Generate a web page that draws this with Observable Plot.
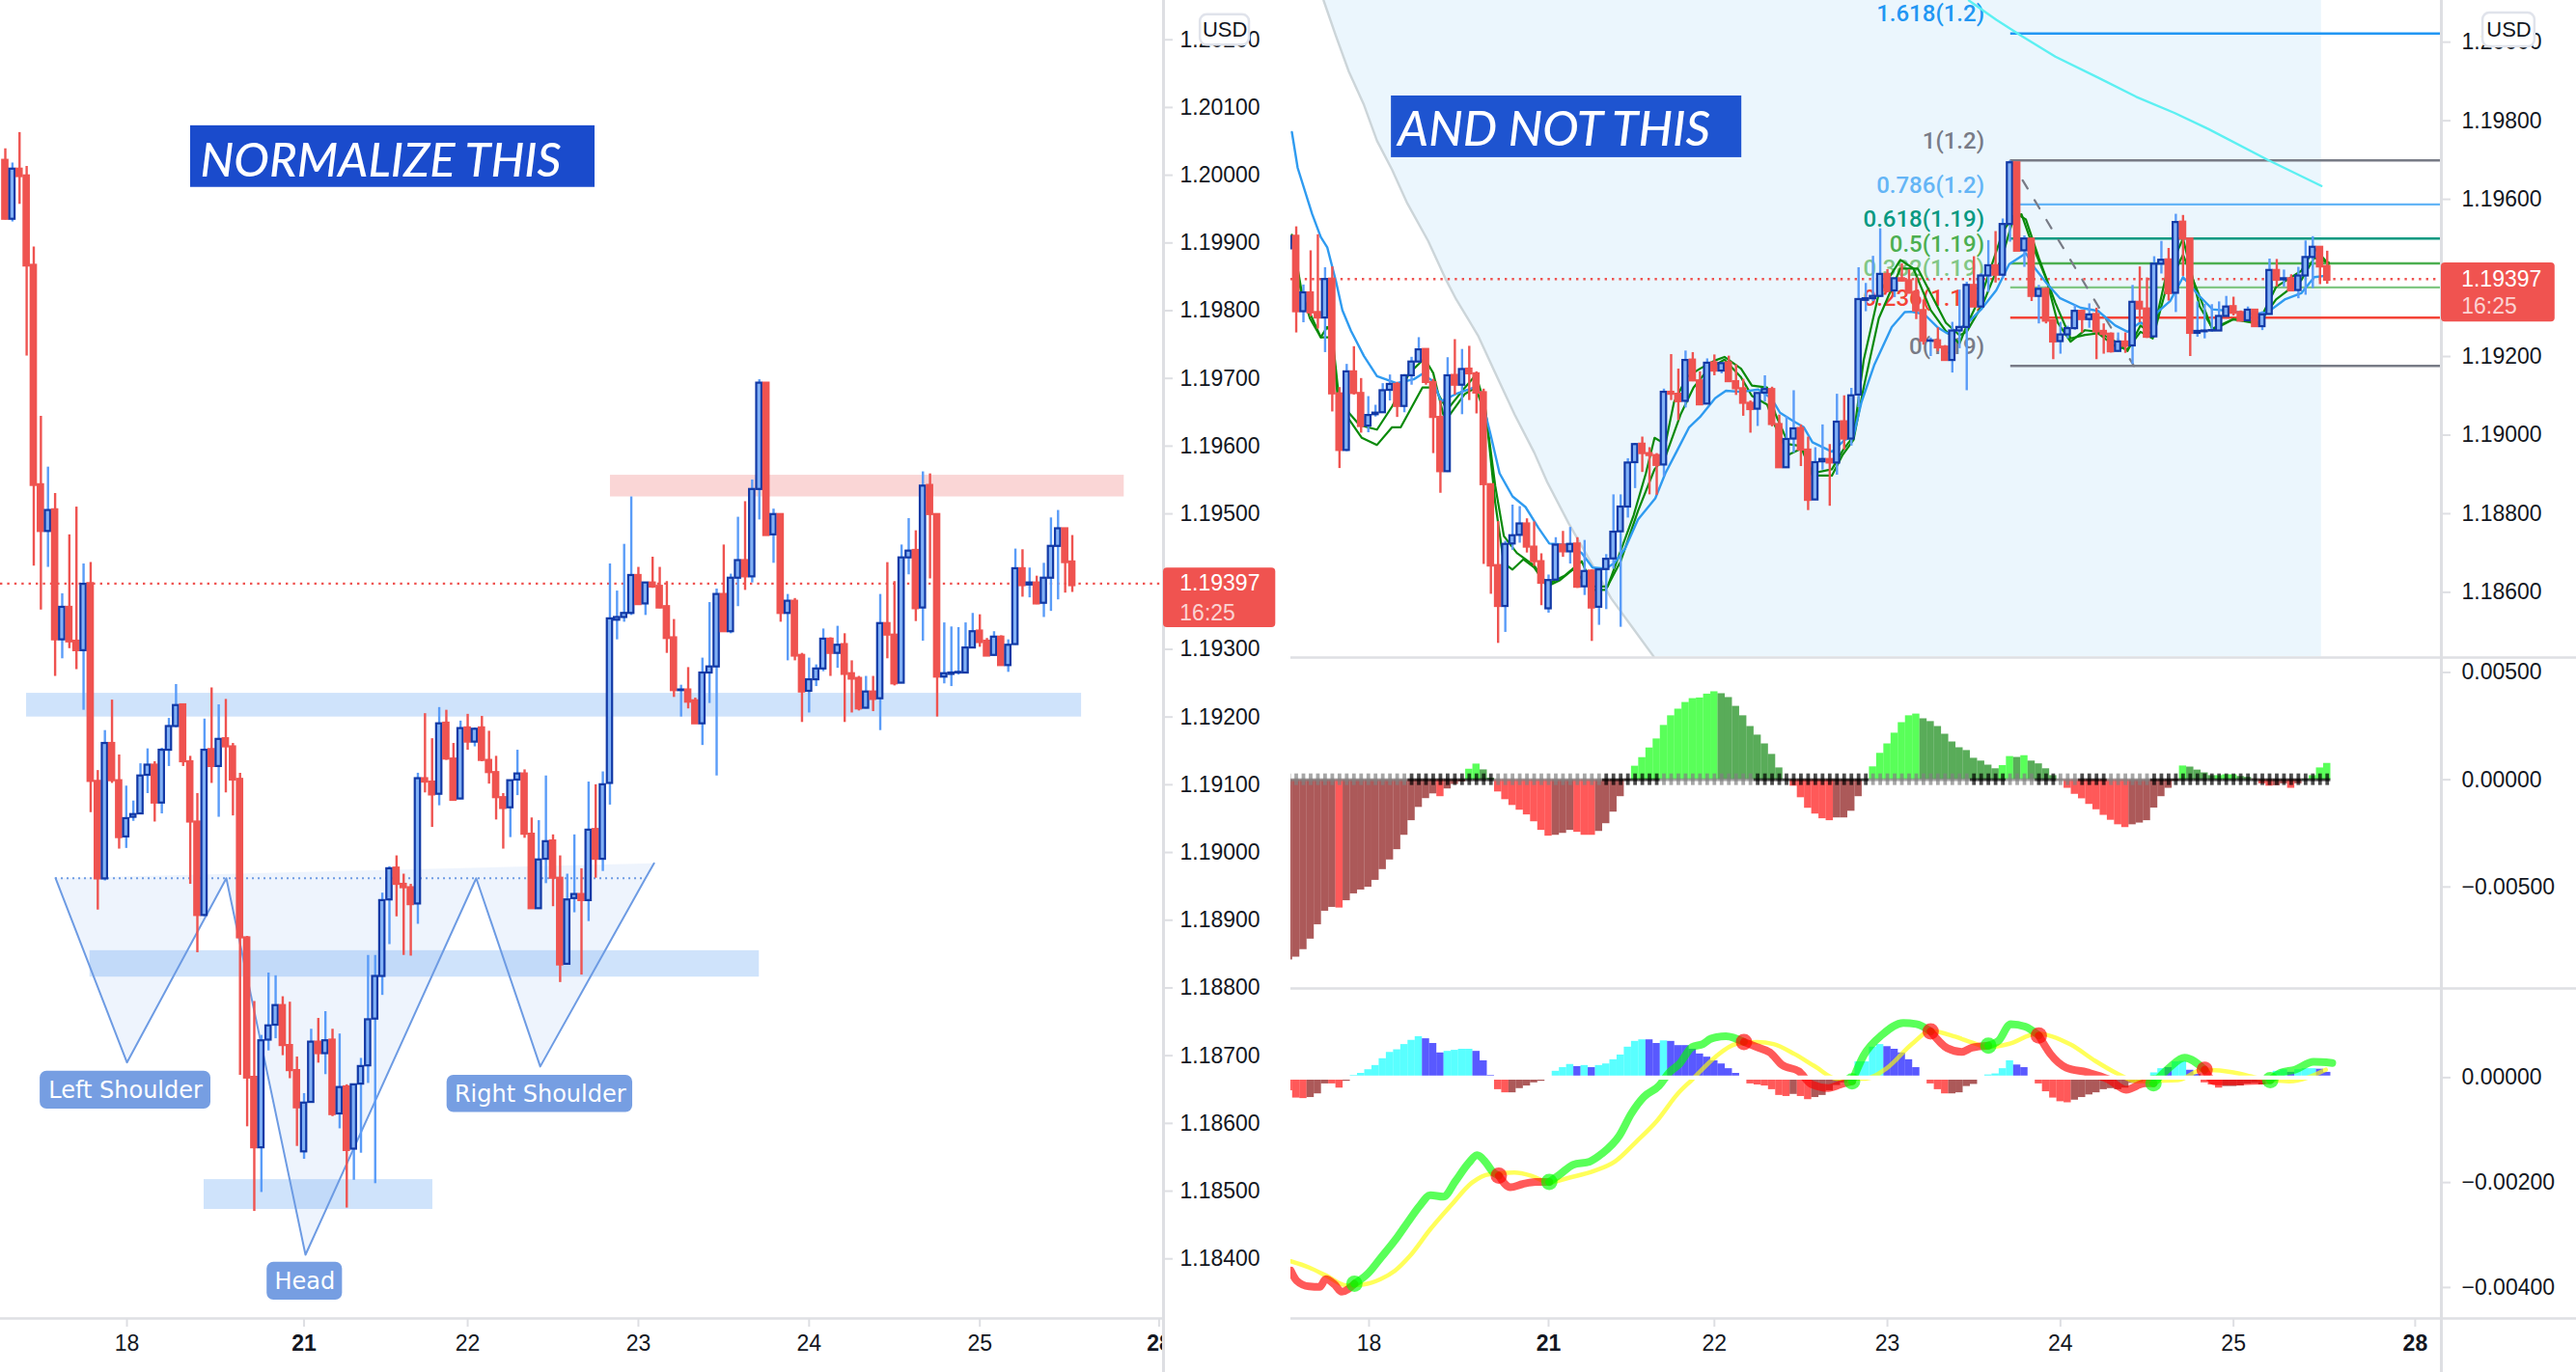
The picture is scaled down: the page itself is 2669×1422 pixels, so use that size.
<!DOCTYPE html>
<html><head><meta charset="utf-8">
<style>
html,body{margin:0;padding:0;background:#fff;width:2669px;height:1422px;overflow:hidden}
.p{position:absolute}
.p svg{display:block}
</style>
<script src="https://cdn.jsdelivr.net/npm/d3@7"></script>
<script src="https://cdn.jsdelivr.net/npm/@observablehq/plot@0.6"></script>
</head><body>
<div class="p" id="left" style="left:0;top:0"></div>
<div class="p" id="rtop" style="left:1337px;top:0"></div>
<div class="p" id="rmid" style="left:1337px;top:682px"></div>
<div class="p" id="rbot" style="left:1337px;top:1025px"></div>
<script>
// ---------- hourly candles ----------
const opens=[1.20022,1.19935,1.20009,1.19999,1.19867,1.19543,1.19474,1.19506,1.19314,1.19362,
1.19312,1.19298,1.19397,1.19105,1.18961,1.19161,1.19106,1.19023,1.19052,1.19057,
1.19114,1.19129,1.19073,1.19151,1.19186,1.19218,1.19134,1.19045,1.18907,1.19152,
1.19127,1.19168,1.19156,1.19108,1.18874,1.18668,1.18564,1.18723,1.18745,1.18774,
1.18715,1.18678,1.18558,1.18631,1.18720,1.18703,1.18723,1.18614,1.18654,1.18562,
1.18658,1.18685,1.18754,1.18817,1.18930,1.18977,1.18953,1.18948,1.18924,1.19109,
1.19104,1.19086,1.19191,1.19138,1.19079,1.19184,1.19163,1.19184,1.19136,1.19118,
1.19081,1.19066,1.19107,1.19116,1.19027,1.18917,1.18990,1.19017,1.18962,1.18835,
1.18932,1.18938,1.18929,1.19034,1.18990,1.19102,1.19343,1.19347,1.19353,1.19409,
1.19367,1.19398,1.19393,1.19363,1.19317,1.19239,1.19240,1.19224,1.19190,1.19265,
1.19274,1.19381,1.19326,1.19405,1.19431,1.19407,1.19536,1.19693,1.19469,1.19499,
1.19353,1.19371,1.19291,1.19238,1.19255,1.19271,1.19315,1.19294,1.19307,1.19264,
1.19257,1.19213,1.19237,1.19227,1.19338,1.19321,1.19250,1.19435,1.19446,1.19361,
1.19542,1.19499,1.19259,1.19263,1.19265,1.19265,1.19302,1.19327,1.19312,1.19291,
1.19318,1.19276,1.19307,1.19419,1.19395,1.19398,1.19368,1.19405,1.19452,1.19478,1.19429];
const closes=[1.19935,1.20009,1.19998,1.19866,1.19542,1.19474,1.19505,1.19314,1.19362,1.19311,
1.19298,1.19396,1.19105,1.18961,1.19161,1.19106,1.19022,1.19050,1.19056,1.19113,
1.19129,1.19073,1.19151,1.19186,1.19217,1.19134,1.19045,1.18907,1.19151,1.19127,
1.19167,1.19156,1.19107,1.18874,1.18667,1.18564,1.18722,1.18744,1.18774,1.18715,
1.18678,1.18623,1.18630,1.18720,1.18703,1.18722,1.18613,1.18653,1.18560,1.18657,
1.18684,1.18753,1.18817,1.18929,1.18976,1.18953,1.18948,1.18923,1.19109,1.19104,
1.19085,1.19190,1.19138,1.19077,1.19183,1.19163,1.19182,1.19136,1.19118,1.19081,
1.19065,1.19106,1.19116,1.19027,1.18917,1.18989,1.19016,1.18962,1.18834,1.18930,
1.18938,1.18929,1.19033,1.18990,1.19100,1.19345,1.19347,1.19353,1.19409,1.19366,
1.19398,1.19392,1.19361,1.19316,1.19239,1.19240,1.19222,1.19190,1.19265,1.19274,
1.19381,1.19326,1.19405,1.19431,1.19407,1.19536,1.19693,1.19468,1.19499,1.19353,
1.19371,1.19290,1.19237,1.19255,1.19271,1.19315,1.19294,1.19306,1.19263,1.19256,
1.19212,1.19237,1.19226,1.19338,1.19321,1.19249,1.19435,1.19445,1.19360,1.19541,
1.19499,1.19259,1.19264,1.19265,1.19266,1.19302,1.19326,1.19310,1.19290,1.19318,
1.19276,1.19306,1.19419,1.19394,1.19398,1.19367,1.19405,1.19452,1.19478,1.19428,1.19394];
const highs=[1.20039,1.20018,1.20063,1.20013,1.19894,1.19644,1.19569,1.19530,1.19382,1.19469,
1.19510,1.19426,1.19428,1.19121,1.19180,1.19225,1.19144,1.19098,1.19076,1.19131,
1.19153,1.19134,1.19154,1.19198,1.19248,1.19218,1.19142,1.19087,1.19197,1.19243,
1.19218,1.19226,1.19161,1.19117,1.18876,1.18780,1.18730,1.18822,1.18818,1.18787,
1.18779,1.18698,1.18644,1.18739,1.18755,1.18765,1.18739,1.18732,1.18657,1.18657,
1.18696,1.18848,1.18848,1.18940,1.18979,1.18995,1.18968,1.18953,1.19117,1.19205,
1.19168,1.19214,1.19210,1.19161,1.19194,1.19204,1.19184,1.19201,1.19179,1.19142,
1.19087,1.19106,1.19151,1.19122,1.19051,1.19047,1.19113,1.19026,1.18995,1.18968,
1.19026,1.18976,1.19104,1.19100,1.19119,1.19426,1.19386,1.19455,1.19525,1.19421,
1.19399,1.19436,1.19421,1.19400,1.19344,1.19247,1.19273,1.19228,1.19287,1.19369,
1.19389,1.19454,1.19411,1.19495,1.19518,1.19550,1.19698,1.19693,1.19507,1.19499,
1.19381,1.19375,1.19294,1.19287,1.19277,1.19330,1.19317,1.19334,1.19323,1.19283,
1.19260,1.19260,1.19260,1.19381,1.19428,1.19400,1.19454,1.19493,1.19475,1.19562,
1.19559,1.19499,1.19339,1.19333,1.19332,1.19339,1.19353,1.19351,1.19316,1.19326,
1.19320,1.19314,1.19448,1.19447,1.19420,1.19408,1.19427,1.19494,1.19505,1.19478,1.19468];
const lows=[1.19934,1.19931,1.19957,1.19733,1.19423,1.19358,1.19421,1.19260,1.19286,1.19301,
1.19270,1.19210,1.19059,1.18915,1.18958,1.19102,1.19005,1.19006,1.19046,1.19056,
1.19087,1.19045,1.19057,1.19127,1.19184,1.19127,1.18953,1.18852,1.18905,1.19102,
1.19052,1.19088,1.19054,1.18671,1.18595,1.18470,1.18498,1.18707,1.18725,1.18700,
1.18666,1.18566,1.18547,1.18630,1.18689,1.18672,1.18610,1.18592,1.18475,1.18516,
1.18556,1.18659,1.18511,1.18789,1.18864,1.18905,1.18848,1.18847,1.18894,1.19088,
1.19037,1.19069,1.19136,1.19076,1.19078,1.19151,1.19156,1.19134,1.19101,1.19048,
1.19005,1.19022,1.19084,1.19021,1.18917,1.18917,1.18954,1.18920,1.18808,1.18834,
1.18911,1.18819,1.18898,1.18962,1.18972,1.19070,1.19314,1.19340,1.19350,1.19366,
1.19350,1.19390,1.19360,1.19294,1.19229,1.19200,1.19212,1.19190,1.19158,1.19220,
1.19113,1.19326,1.19323,1.19363,1.19387,1.19398,1.19491,1.19468,1.19427,1.19340,
1.19283,1.19283,1.19192,1.19206,1.19245,1.19267,1.19260,1.19272,1.19192,1.19206,
1.19209,1.19212,1.19208,1.19180,1.19286,1.19246,1.19250,1.19410,1.19341,1.19312,
1.19404,1.19200,1.19249,1.19245,1.19262,1.19265,1.19301,1.19303,1.19290,1.19290,
1.19276,1.19266,1.19306,1.19377,1.19376,1.19366,1.19347,1.19356,1.19373,1.19383,1.19384];

// ---------- axes ----------
const dayTicks=[17.1,65,89,113,137];
const dayLabels=["18","22","23","24","25"];
const boldTicks=[42,162.2];
const boldLabels=["21","28"];
const leftPriceTicks=[1.184,1.185,1.186,1.187,1.188,1.189,1.19,1.191,1.192,1.193,1.194,1.195,1.196,1.197,1.198,1.199,1.2,1.201,1.202];
const rightPriceTicks=[1.186,1.188,1.19,1.192,1.196,1.198,1.2];
const squeezeTicks=[0.005,0,-0.005];
const oscTicks=[0,-0.002,-0.004];
const lastPrice=1.19397;

// ---------- left annotations ----------
const zoneX1=[2.99,85.07,11.9,27.95], zoneX2=[151.3,157.3,106,60.1];
const zoneY1=[1.19235,1.19557,1.18855,1.18517], zoneY2=[1.19200,1.19525,1.18816,1.18473];
const zoneColor=["#94c0f7","#f4a3a3","#94c0f7","#94c0f7"];
const patternX=[7.06,17.1,31.07,42.2,66.2,75.2,90,91.2];
const patternY=[1.18962,1.1869,1.18962,1.18406,1.18962,1.18684,1.18962,1.18984];
const necklineX=[7.06,90];
const shoulderText=["Left Shoulder","Head","Right Shoulder"];
const shoulderX=[16.9,42.1,75.2], shoulderY=[1.18649,1.18367,1.18643];
const shoulderX1=[4.9,36.8,62.1], shoulderX2=[28.9,47.4,88.2];
const shoulderY1=[1.18677,1.18395,1.18671], shoulderY2=[1.18621,1.18339,1.18616];

// ---------- right price panel ----------
const cloudEdge=[[10.8,1.20106],[12.5,1.20016],[14.3,1.19925],[16.4,1.1984],[18.2,1.19749],[20.3,1.19675],[22.4,1.1959],[25.3,1.19494],[27.7,1.19398],[29.2,1.19345],[32.2,1.19254],[34.6,1.19158],[37.3,1.19052],[40,1.18956],[41.8,1.18881],[44.8,1.18775],[47.8,1.18679],[50.7,1.18584],[53.7,1.18509],[56.6,1.18436]];
const cloudRight=149.2;
const longMa=[[100.3,1.20106],[104.1,1.20057],[107.6,1.20016],[112.3,1.19963],[118.2,1.1991],[123.5,1.19861],[128.8,1.1982],[133.5,1.19779],[141.7,1.19701],[149.2,1.19634]];
const blueMa=[[6.4,1.19771],[7.2,1.1968],[9.2,1.19563],[10.4,1.19504],[11.3,1.19478],[12.5,1.19392],[13.4,1.19318],[14.6,1.19265],[16.4,1.19201],[18.2,1.1915],[20.9,1.19132],[23.3,1.19142],[24.5,1.19156],[26,1.19137],[27.1,1.19086],[29.2,1.19105],[31.6,1.19121],[32.5,1.1911],[34,1.18998],[35.2,1.18903],[37,1.18844],[38.8,1.18817],[40.6,1.18764],[42.1,1.18724],[44.8,1.18721],[46.6,1.187],[48.1,1.18663],[49.9,1.1866],[51.1,1.18674],[52.6,1.18711],[54.4,1.18785],[56.8,1.18839],[58.2,1.18903],[59.7,1.18956],[61.5,1.1902],[63,1.19046],[65.1,1.19094],[66.6,1.19113],[68.7,1.1911],[71.1,1.19116],[72.9,1.19094],[74.1,1.19057],[75.9,1.19036],[77.4,1.1902],[78.6,1.18982],[81.3,1.18958],[83.1,1.18988],[84.3,1.18998],[85.4,1.19084],[87.2,1.1918],[89.6,1.19275],[91.4,1.19313],[92.3,1.19314],[94.1,1.19308],[95.9,1.19275],[97.3,1.19259],[98.8,1.19269],[100,1.19283],[102,1.1932],[104.1,1.19369],[105.9,1.19435],[108.2,1.19463],[109.4,1.19426],[111.1,1.19386],[112.9,1.19349],[115.8,1.19324],[118.2,1.19316],[120.6,1.19279],[122.3,1.19263],[124.1,1.19287],[125.3,1.19271],[126.4,1.19312],[128.2,1.19341],[130,1.19402],[132.3,1.19353],[134.1,1.1932],[136.4,1.19316],[139.4,1.19308],[141.7,1.19312],[144.1,1.19345],[146.4,1.19361],[148.2,1.19402],[150,1.19406]];
const greenFast=[[6.4,1.1951],[7.7,1.19371],[8.9,1.19297],[10.4,1.19249],[11.3,1.19275],[12,1.19254],[12.8,1.19116],[14.3,1.19057],[15.8,1.19025],[18.2,1.19014],[20.3,1.19073],[22.7,1.19158],[24.8,1.19195],[26,1.19158],[27.4,1.19052],[30.4,1.19121],[31.9,1.19153],[33.1,1.19084],[34.6,1.18871],[35.8,1.18743],[37.6,1.187],[40,1.18668],[41.8,1.1862],[44.2,1.18642],[46.6,1.18679],[48.1,1.18615],[50.2,1.18615],[51.7,1.1869],[53.8,1.18796],[55.5,1.18903],[56.7,1.18993],[58.2,1.18977],[59.4,1.19084],[61.2,1.19148],[63,1.19169],[65.1,1.1919],[66.4,1.19199],[68.7,1.19169],[70.2,1.19126],[72.3,1.19121],[73.5,1.19052],[75.3,1.18977],[77.1,1.18972],[78.6,1.18903],[81.3,1.18913],[82.8,1.18961],[84.3,1.18998],[85.7,1.1919],[87.8,1.1936],[90.8,1.19446],[92.6,1.19424],[95,1.19318],[97.1,1.19265],[99,1.19233],[100,1.19279],[102.3,1.19369],[105,1.19517],[106.4,1.19557],[107.6,1.19562],[109.1,1.19484],[111.1,1.19394],[112.6,1.19287],[114.4,1.19238],[116.4,1.19267],[118.2,1.19263],[120.6,1.19238],[122.3,1.19214],[124.1,1.19279],[125.8,1.19255],[127.6,1.19402],[130,1.195],[132.3,1.19328],[134.1,1.19271],[137,1.19295],[140.5,1.19287],[142.9,1.19377],[146.4,1.19418],[148.2,1.19476],[150.2,1.19435]];
const greenSlow=[[6.4,1.19504],[7.7,1.1936],[10.4,1.19249],[12,1.19249],[12.8,1.19084],[14.3,1.19041],[16.1,1.18993],[18.2,1.18975],[20.3,1.1902],[21.5,1.1902],[24.5,1.19121],[26.2,1.19121],[28.3,1.19052],[30.4,1.19105],[31.9,1.19121],[33.4,1.19041],[34.6,1.18828],[35.8,1.18674],[37,1.18658],[38.5,1.18684],[40,1.18663],[41.8,1.18615],[43.6,1.18631],[45.4,1.18658],[48.1,1.18606],[49.9,1.18606],[52,1.18679],[54.4,1.18807],[56.7,1.18913],[58.2,1.18945],[60.3,1.19052],[62.1,1.19121],[64.2,1.19169],[66.4,1.19192],[68.7,1.19147],[70.2,1.191],[72.3,1.19078],[73.5,1.1902],[75.3,1.1895],[77.1,1.18966],[78.6,1.18897],[81.3,1.18897],[82.8,1.1895],[84.3,1.18988],[85.7,1.19121],[87.8,1.19297],[90.8,1.19424],[93.2,1.19424],[95,1.1936],[97.1,1.19286],[99,1.19254],[100,1.19263],[102.3,1.19336],[105,1.19459],[106.7,1.19566],[108.2,1.19549],[110,1.19451],[112.3,1.19336],[114.4,1.19246],[116.4,1.19255],[118.2,1.19259],[120.6,1.19226],[122.3,1.19218],[124.1,1.19263],[125.8,1.19246],[127.6,1.19369],[130,1.19459],[132.3,1.19353],[134.1,1.19267],[137,1.19295],[140.5,1.19283],[142.9,1.19345],[146.4,1.19394],[148.2,1.19451],[150.2,1.19439]];
const fibLabels=["1.618(1.2)","1(1.2)","0.786(1.2)","0.618(1.19)","0.5(1.19)","0.382(1.19)","0.236(1.19)","0(1.19)"];
const fibPrices=[1.20022,1.19699,1.19587,1.195,1.19437,1.19376,1.19299,1.19176];
const fibColors=["#2196f3","#787b86","#64b5f6","#089981","#4caf50","#81c784","#f44336","#787b86"];
const fibStart=106.1, fibLabelEnd=102.45;
const fibTrendX=[106.1,123.2], fibTrendY=[1.19699,1.19176];

// ---------- squeeze momentum histogram, bars 6..150 ----------
const histStart=6;
const squeezeHist=[-.0084,-.00827,-.00792,-.00743,-.00676,-.00613,-.00595,-.00598,-.00564,-.00532,
-.00514,-.00501,-.00469,-.00419,-.00374,-.00326,-.00259,-.00191,-.00129,-.00088,
-.00066,-.00079,-.00043,-.00022,-.0001,.00049,.00073,.00046,.00007,-.00057,
-.00093,-.0012,-.00142,-.00164,-.00196,-.00236,-.00263,-.00259,-.0025,-.00236,
-.00245,-.00259,-.00259,-.00241,-.00205,-.00151,-.00079,-.00004,.00063,.00103,
.00148,.0019,.00253,.00298,.00329,.0036,.00378,.00381,.00399,.0041,
.00401,.00383,.00342,.00298,.00248,.00208,.00167,.00118,.00055,0,
-.0003,-.00084,-.00133,-.0016,-.00182,-.00191,-.00178,-.00178,-.00147,-.00079,
0,.0006,.00123,.00167,.00217,.00266,.00298,.00306,.00284,.00271,
.00248,.00212,.00176,.00149,.00136,.001,.00087,.00068,.00051,.00066,
.00108,.00104,.00112,.00087,.00074,.00051,.00019,-.00003,-.0004,-.00068,
-.00089,-.00115,-.0014,-.00166,-.00189,-.0021,-.00223,-.0021,-.00202,-.00191,
-.00132,-.00079,-.0004,-.00006,.00064,.00059,.00045,.00032,.00019,.00019,
.00023,.00023,.00015,.00011,-.00002,-.00019,-.0003,-.00028,-.00019,-.0004,
-.00019,.00002,.00019,.00055,.00076];
const squeezeKind=("rrrrrrrRrr"+"rrrrrrrrrr"+"rRrrrGGggR"+"RRRRRRRrrr"+"RRRrrrrrGG"+"GGGGGGGGGG"+"gggggggggg"+"RRRRRRrrrr"+"rGGGGGGGgg"+"gggggggggG"+"GgGggggrRR"+"RRRRRRRrrr"+"rrrrGggggG"+"GGggRRRrrR"+"rgGGG");
const squeezeOnRanges=[[23,34],[50,57],[71,86],[101,105],[110,112],[116,119],[126,150]];

// ---------- MACD-style oscillator, bars 6..150 ----------
const oscHist=[-.00025,-.00039,-.0004,-.00038,-.00031,-.00012,-.00012,-.0002,-.00007,.00004,
.00008,.00015,.00023,.00036,.00048,.00053,.00063,.00071,.00078,.00074,
.00065,.00047,.0005,.00052,.00054,.00054,.0005,.00032,.00004,-.00023,
-.00029,-.00029,-.00021,-.00016,-.0001,-.00007,0,.00012,.00019,.00025,
.00021,.00023,.00019,.00023,.00026,.00034,.00043,.00058,.00069,.00072,
.00072,.00065,.0007,.00069,.00061,.00061,.00054,.00045,.00039,.00032,
.00026,.00017,.00008,0,-.00012,-.00014,-.00016,-.00023,-.00034,-.00036,
-.00032,-.00036,-.00042,-.00038,-.00034,-.00025,-.00015,-.0001,-.00007,.0003,
.0003,.00058,.00063,.00059,.00054,.00047,.00034,.00019,0,-.00012,
-.00023,-.00031,-.00031,-.00029,-.00017,-.00013,0,.00005,.00007,.00017,
.00032,.00024,.00019,0,-.00012,-.00027,-.00039,-.00046,-.00048,-.00043,
-.00038,-.00033,-.00029,-.00023,-.00021,-.00023,-.0002,-.00011,-.00009,0,
.00009,.00017,.00019,.0003,.00031,.00014,.00006,-.0001,-.00014,-.0002,
-.00017,-.00017,-.00016,-.00012,-.00011,-.00014,0,.00012,.00015,.0001,
.00015,.00017,.00017,.00016,.0001];
const oscKind=("RRRrrrRRrC"+"CCCCCCCCCB"+"BBCCCCBBBR"+"RrrrrrrCCC"+"BCBCCCCCCC"+"BBCBBBBBBB"+"BBBBRRRRRR"+"rRRrrrrrrC"+"CCCBBBBBBR"+"RRrrrrrCCC"+"CBBBRRRRRr"+"rrrrrrrrrr"+"CCBCCBBRRR"+"rrrrrrrCCB"+"CCCBB");
const signalLine=[[6.25,-.0035],[8.8,-.00362],[11.1,-.00377],[14,-.00396],[16.35,-.00394],[18.7,-.00384],[20.7,-.00368],[22.7,-.00341],[25.6,-.00289],[28.5,-.00243],[31.4,-.002],[33.8,-.00184],[37.25,-.00181],[39.6,-.00187],[42.1,-.002],[44.8,-.00191],[48.3,-.00178],[51.2,-.0016],[54.1,-.00123],[57,-.00083],[59.9,-.00031],[61.9,-.00004],[65.1,.00039],[68,.00064],[70.9,.00068],[73.2,.00064],[76.1,.00045],[79,.00021],[81.95,-.00002],[86,-.00002],[88.9,.00018],[92.4,.00064],[95,.00089],[98.4,.00078],[100.7,.00067],[103,.00058],[105.8,.00064],[109.8,.00084],[114.4,.00063],[117.8,.00032],[120.7,.00009],[123.6,-.00007],[129.3,-.00005],[132.7,.00015],[137,.0001],[140.1,0],[144.7,-.00007],[149.8,.00015]];
const macdLine=[[6.25,-.00368],[7.06,-.00387],[8.8,-.00398],[10.25,-.00399],[11.1,-.00384],[12.3,-.00394],[13.3,-.00408],[15.07,-.00393],[16.9,-.00374],[18.7,-.00344],[20.7,-.0031],[22.45,-.00276],[24.2,-.00243],[25.6,-.00224],[27.4,-.00227],[29.1,-.00197],[30.9,-.00163],[32.1,-.00148],[33.2,-.0016],[34.35,-.00181],[35.1,-.00187],[36.7,-.00209],[38.4,-.00203],[40.2,-.00199],[42.1,-.00199],[43.6,-.00184],[45.4,-.00166],[47.7,-.0016],[49.4,-.00145],[51.8,-.00111],[53.5,-.00068],[55.2,-.00037],[57.3,-.00016],[58.7,.00009],[60.2,.00027],[61.9,.00058],[63.4,.00064],[64.5,.00074],[66.6,.00079],[69.1,.00068],[70.9,.00058],[72.7,.00048],[74.4,.00024],[76.7,.00012],[78.5,-.00013],[80.8,-.0002],[82.5,-.00013],[84.1,-.00007],[85.7,.00042],[88.3,.00082],[91.2,.00104],[93,.00102],[95,.00088],[97.3,.00056],[99.3,.00049],[100.7,.00057],[103,.00061],[104.4,.0007],[106.1,.00102],[108.1,.00097],[110,.0008],[111.6,.00045],[113.8,.00019],[116.7,.0001],[119.6,-.00003],[122.1,-.00023],[124.7,-.00011],[125.9,-.00011],[128.1,.00019],[130.2,.00038],[133,.00015],[134.4,-.00007],[137.8,-.00007],[142.1,-.00005],[143.5,.00009],[145.5,.00015],[148.1,.0003],[150.7,.00028]];
const macdCrossX=[15.07,35.1,42.1,69.1,84.1,95,103,110,125.9,133,142.1];
const macdCrossY=[-.00393,-.00187,-.00199,.00068,-.00007,.00088,.00061,.0008,-.00011,.00015,-.00005];

// ---------- build tables ----------
const candles=opens.map((o,i)=>({i,o,h:highs[i],l:lows[i],c:closes[i],up:closes[i]>=o}));
const zones=zoneX1.map((a,k)=>({a,b:zoneX2[k],t:zoneY1[k],u:zoneY2[k],f:zoneColor[k]}));
const pattern=patternX.map((x,k)=>({x,y:patternY[k]}));
const shoulders=shoulderText.map((t,k)=>({t,x:shoulderX[k],y:shoulderY[k],a:shoulderX1[k],b:shoulderX2[k],u:shoulderY1[k],v:shoulderY2[k]}));
const fibs=fibLabels.map((t,k)=>({t,p:fibPrices[k],f:fibColors[k]}));
const pts=a=>a.map(([x,y])=>({x,y}));
const kindColor={r:"#800000",R:"#ff0000",g:"#008000",G:"#00ff00",C:"#00ffff",B:"#0000ff"};
const hist=(vals,kinds)=>vals.map((v,k)=>({i:histStart+k,v,f:kindColor[kinds[k]]||"#800000"}));
const RED="#ef5350", WICK="#5a9cf8", BODY="#82b1f5", EDGE="#1239a6", AXIS="#dedfe3", INK="#131722";
const AXFONT="Liberation Sans";

const candleMarks=(clip)=>[
  Plot.ruleX(candles,{x:"i",y1:"l",y2:"h",stroke:d=>d.up?WICK:RED,strokeWidth:2.4,clip}),
  Plot.rect(candles,{x1:d=>d.i-.37,x2:d=>d.i+.37,y1:"o",y2:"c",fill:d=>d.up?BODY:RED,stroke:d=>d.up?EDGE:RED,strokeWidth:2.2,clip})
];
const dayAxes=()=>[
  Plot.axisX({anchor:"bottom",ticks:dayTicks,tickFormat:d=>dayLabels[dayTicks.indexOf(d)],label:null,tickSize:9,tickPadding:8,stroke:AXIS,strokeWidth:2,fill:INK}),
  Plot.axisX({anchor:"bottom",ticks:boldTicks,tickFormat:d=>boldLabels[boldTicks.indexOf(d)],label:null,tickSize:9,tickPadding:8,stroke:AXIS,strokeWidth:2,fill:INK,fontWeight:"bold"})
];
const yAxis=(ticks,pad)=>Plot.axisY({anchor:"right",ticks,tickFormat:d3.format(".5f"),label:null,tickSize:9,tickPadding:pad,stroke:AXIS,strokeWidth:2,fill:INK});
const base=(w,h,mb,mr,x,y)=>({width:w,height:h,marginLeft:0,marginTop:0,marginBottom:mb,marginRight:mr,
  x:{domain:x,axis:null},y:{domain:y,axis:null},
  style:{background:"transparent",fontFamily:AXFONT,fontSize:"23px",overflow:"visible"}});

const usd=(a,b,u,v,t)=>[
  Plot.rect([0],{x1:a,x2:b,y1:u,y2:v,fill:"#fff",stroke:"#e0e3eb",strokeWidth:2.5,rx:7}),
  Plot.text(["USD"],{x:(a+b)/2,y:t,text:d=>d,fontSize:22,fill:INK})
];
const tag=(a,b,u,v,tx,t2)=>[
  Plot.rect([0],{x1:a,x2:b,y1:u,y2:v,fill:"#f05350",rx:4}),
  Plot.text([lastPrice.toFixed(5)],{x:tx,y:lastPrice,text:d=>d,textAnchor:"start",fill:"#fff",fontSize:23}),
  Plot.text(["16:25"],{x:tx,y:t2,text:d=>d,textAnchor:"start",fill:"#fff",fillOpacity:.75,fontSize:23})
];

// ---------- LEFT chart ----------
const leftX=[-0.68,162.82], leftY=[1.18312,1.20258];
document.getElementById("left").append(Plot.plot({...base(1337,1422,56,132,leftX,leftY),marks:[
  Plot.rect(zones,{x1:"a",x2:"b",y1:"t",y2:"u",fill:"f",fillOpacity:.45}),
  Plot.line(pattern,{x:"x",y:"y",fill:"#5b8fe8",fillOpacity:.1,stroke:"none"}),
  Plot.line(pattern,{x:"x",y:"y",stroke:"#6d9be3",strokeWidth:2}),
  Plot.ruleY([patternY[0]],{x1:necklineX[0],x2:necklineX[1],stroke:"#6d9be3",strokeWidth:2,strokeDasharray:"2 4"}),
  Plot.ruleY([lastPrice],{stroke:RED,strokeWidth:2.4,strokeDasharray:"2.4 5"}),
  ...candleMarks(false),
  Plot.rect(shoulders,{x1:"a",x2:"b",y1:"u",y2:"v",fill:"#769ee2",rx:7}),
  Plot.text(shoulders,{x:"x",y:"y",text:"t",fill:"#fff",fontFamily:"DejaVu Sans",fontSize:24}),
  Plot.rect([0],{x1:26.05,x2:82.9,y1:1.20073,y2:1.19982,fill:"#1a4bcc"}),
  Plot.text(["NORMALIZE THIS"],{x:27.4,y:1.20028,dy:5,text:d=>d,textAnchor:"start",fill:"#fff",fontFamily:"Lato",fontStyle:"italic",fontSize:49,fontWeight:500}),
  yAxis(leftPriceTicks,8),
  ...dayAxes(),
  Plot.rect([0],{x1:162.96,x2:178,y1:1.18309,y2:1.18232,fill:"#fff"}),
  Plot.ruleX([leftX[1]],{stroke:AXIS,strokeWidth:3,insetBottom:-56}),
  Plot.ruleY([leftY[0]],{stroke:AXIS,strokeWidth:2.6}),
  ...usd(168,174.9,1.20237,1.20192,1.20215),
  ...tag(leftX[1],178.6,1.1942,1.19332,165.1,1.19353)
]}));

// ---------- RIGHT price panel ----------
const rightX=[6.26,165.83], rightY=[1.18434,1.20106];
document.getElementById("rtop").append(Plot.plot({...base(1332,682,1,140,rightX,rightY),marks:[
  Plot.areaX(pts(cloudEdge),{y:"y",x1:"x",x2:()=>cloudRight,fill:"#ebf6fd",clip:true}),
  Plot.line(pts(cloudEdge),{x:"x",y:"y",stroke:"#ccd5d9",strokeWidth:2.4,clip:true}),
  Plot.ruleY(fibs,{y:"p",x1:fibStart,x2:rightX[1],stroke:"f",strokeWidth:2.4}),
  Plot.text(fibs,{x:fibLabelEnd,y:"p",dy:-20,text:"t",fill:"f",textAnchor:"end",fontFamily:"Roboto",fontWeight:500,fontSize:24}),
  Plot.line(fibTrendX.map((x,k)=>({x,y:fibTrendY[k]})),{x:"x",y:"y",stroke:"#787b86",strokeWidth:2.2,strokeDasharray:"10 14"}),
  Plot.ruleY([lastPrice],{stroke:RED,strokeWidth:2.4,strokeDasharray:"2.4 5"}),
  Plot.line(pts(longMa),{x:"x",y:"y",stroke:"#5cf0f2",strokeWidth:2.4,clip:true}),
  Plot.line(pts(greenSlow),{x:"x",y:"y",stroke:"#0a8a0a",strokeWidth:2.2,clip:true}),
  Plot.line(pts(greenFast),{x:"x",y:"y",stroke:"#0a8a0a",strokeWidth:2.2,clip:true}),
  Plot.line(pts(blueMa),{x:"x",y:"y",stroke:"#2f9bf0",strokeWidth:2.4,clip:true}),
  ...candleMarks(true),
  Plot.rect([0],{x1:20.2,x2:68.8,y1:1.19863,y2:1.19706,fill:"#1e54d0"}),
  Plot.text(["AND NOT THIS"],{x:21.1,y:1.19785,dy:4,text:d=>d,textAnchor:"start",fill:"#fff",fontFamily:"Lato",fontStyle:"italic",fontSize:50,fontWeight:500}),
  yAxis(rightPriceTicks,12),
  Plot.ruleX([rightX[1]],{stroke:AXIS,strokeWidth:3}),
  Plot.ruleY([rightY[0]],{stroke:AXIS,strokeWidth:2.6,insetRight:-140}),
  ...usd(171.6,178.8,1.20074,1.19988,1.20032),
  ...tag(rightX[1],181.6,1.19438,1.19288,168.6,1.19328)
]}));

// ---------- squeeze panel ----------
const midY=[-.00973,.00565];
const isOn=i=>squeezeOnRanges.some(([a,b])=>i>=a&&i<=b);
const squeezeRows=d3.range(histStart,opens.length).map(i=>({i,c:isOn(i)?"#000":"#808080"}));
document.getElementById("rmid").append(Plot.plot({...base(1332,343,1,140,rightX,midY),marks:[
  Plot.rect(hist(squeezeHist,squeezeKind),{x1:d=>d.i-.5,x2:d=>d.i+.5,y1:0,y2:"v",fill:"f",fillOpacity:.65,clip:true}),
  Plot.ruleX(squeezeRows,{x:"i",y1:-.00027,y2:.00027,stroke:"c",strokeOpacity:.7,strokeWidth:3.8,clip:true}),
  Plot.ruleY(squeezeRows,{y:0,x1:d=>d.i-.5,x2:d=>d.i+.5,stroke:"c",strokeOpacity:.7,strokeWidth:3,clip:true}),
  yAxis(squeezeTicks,12),
  Plot.ruleX([rightX[1]],{stroke:AXIS,strokeWidth:3}),
  Plot.ruleY([midY[0]],{stroke:AXIS,strokeWidth:2.6,insetRight:-140})
]}));

// ---------- oscillator panel ----------
const botY=[-.00459,.00168];
const macd=pts(macdLine);
const bounds=[-Infinity,...macdCrossX,Infinity];
const macdSegs=d3.range(bounds.length-1).flatMap(s=>macd.filter(p=>p.x>=bounds[s]&&p.x<=bounds[s+1]).map(p=>({...p,s,c:s%2?"#00ff00":"#ff0000"})));
const crosses=macdCrossX.map((x,k)=>({x,y:macdCrossY[k],c:k%2?"#ff0000":"#00ff00"}));
document.getElementById("rbot").append(Plot.plot({...base(1332,397,56,140,rightX,botY),marks:[
  Plot.rect(hist(oscHist,oscKind),{x1:d=>d.i-.5,x2:d=>d.i+.5,y1:0,y2:"v",fill:"f",fillOpacity:.65,clip:true}),
  Plot.line(pts(signalLine),{x:"x",y:"y",stroke:"#ffff00",strokeOpacity:.65,strokeWidth:4.5,curve:"monotone-x",clip:true}),
  Plot.line(macdSegs,{x:"x",y:"y",z:"s",stroke:"c",strokeOpacity:.65,strokeWidth:8,curve:"monotone-x",clip:true}),
  Plot.dot(crosses,{x:"x",y:"y",r:8.5,fill:"c",fillOpacity:.65,stroke:"none"}),
  Plot.ruleY([0],{stroke:"#fff",strokeWidth:4.3,clip:true}),
  yAxis(oscTicks,12),
  ...dayAxes(),
  Plot.ruleX([rightX[1]],{stroke:AXIS,strokeWidth:3,insetBottom:-56}),
  Plot.ruleY([botY[0]],{stroke:AXIS,strokeWidth:2.6,insetRight:-140})
]}));
</script>
</body></html>
